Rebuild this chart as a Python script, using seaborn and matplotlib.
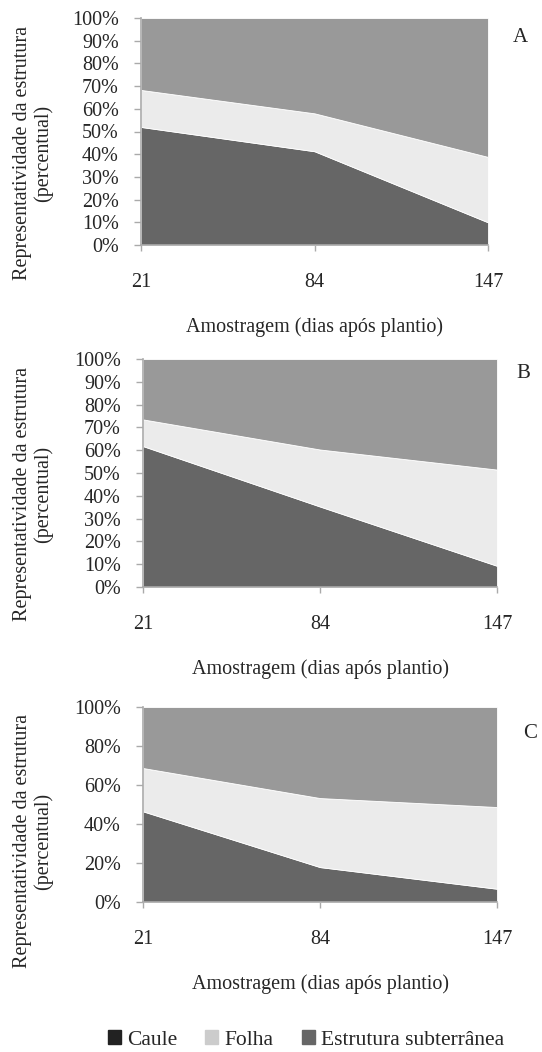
import matplotlib
matplotlib.use("Agg")
import matplotlib.pyplot as plt
import matplotlib.patches as mpatches
import seaborn as sns

# Data (percent of each structure)
dias = [21, 84, 147]
painel_labels = ["A", "B", "C"]

subterranea_a = [52.0, 41.3, 10.0]
folha_a = [16.3, 16.7, 28.8]
caule_a = [31.7, 42.0, 61.2]

subterranea_b = [61.8, 35.3, 9.3]
folha_b = [11.7, 25.0, 42.2]
caule_b = [26.5, 39.7, 48.5]

subterranea_c = [46.5, 17.9, 6.8]
folha_c = [22.2, 35.4, 41.9]
caule_c = [31.3, 46.7, 51.3]

yticks_ab = [0, 10, 20, 30, 40, 50, 60, 70, 80, 90, 100]
yticks_c = [0, 20, 40, 60, 80, 100]

legend_names = ["Caule", "Folha", "Estrutura subterrânea"]
legend_colors = ["#222222", "#cccccc", "#666666"]
area_colors = ["#666666", "#ebebeb", "#999999"]

sns.set_style("white")
plt.rcParams["font.family"] = ["Liberation Serif", "DejaVu Serif"]

W, H = 542, 1052
fig = plt.figure(figsize=(W / 100, H / 100), dpi=100)

# axes boxes in pixels: left, right, top, bottom
boxes = [(141, 488, 18, 245), (143, 497, 359, 587), (143, 497, 707, 902)]
label_pos = [(520, 37), (523, 373), (530, 733)]
ylabel_y = [153, 494, 841]
series = [(subterranea_a, folha_a, caule_a),
          (subterranea_b, folha_b, caule_b),
          (subterranea_c, folha_c, caule_c)]
ticks = [yticks_ab, yticks_ab, yticks_c]

for i in range(3):
    l, r, t, b = boxes[i]
    ax = fig.add_axes([l / W, 1 - b / H, (r - l) / W, (b - t) / H])
    sub, fol, cau = series[i]
    ax.stackplot(dias, sub, fol, cau, colors=area_colors,
                 edgecolor="white", linewidth=0.6)
    ax.set_xlim(21, 147)
    ax.set_ylim(0, 100)
    ax.set_xticks(dias)
    ax.set_xticklabels([str(d) for d in dias])
    ax.set_yticks(ticks[i])
    ax.set_yticklabels([f"{v}%" for v in ticks[i]])
    ax.tick_params(axis="y", direction="out", length=5, width=1, color="#aaaaaa",
                   pad=11, labelsize=14.5, left=True)
    ax.tick_params(axis="x", direction="out", length=4, width=1, color="#aaaaaa",
                   pad=16, labelsize=14.5, bottom=True)
    sns.despine(ax=ax, top=True, right=True)
    for s in ["left", "bottom"]:
        ax.spines[s].set_color("#aaaaaa")
        ax.spines[s].set_linewidth(1.2)
    ax.set_xlabel("Amostragem (dias após plantio)", fontsize=14.5, labelpad=18)
    ax.set_ylabel("")
    fig.text(33 / W, 1 - ylabel_y[i] / H,
             "Representatividade da estrutura\n(percentual)",
             rotation=90, ha="center", va="center", fontsize=14.5,
             linespacing=1.1)
    lx, ly = label_pos[i]
    fig.text(lx / W, 1 - ly / H, painel_labels[i], ha="center", va="center",
             fontsize=15)

handles = [mpatches.Patch(color=c, label=n) for c, n in zip(legend_colors, legend_names)]
fig.legend(handles=handles, loc="center", bbox_to_anchor=(306 / W, 1 - 1040 / H),
           ncol=3, frameon=False, fontsize=15.5, handlelength=0.6, handleheight=0.6,
           handletextpad=0.3, columnspacing=1.3)

fig.savefig("out.png", dpi=100)
